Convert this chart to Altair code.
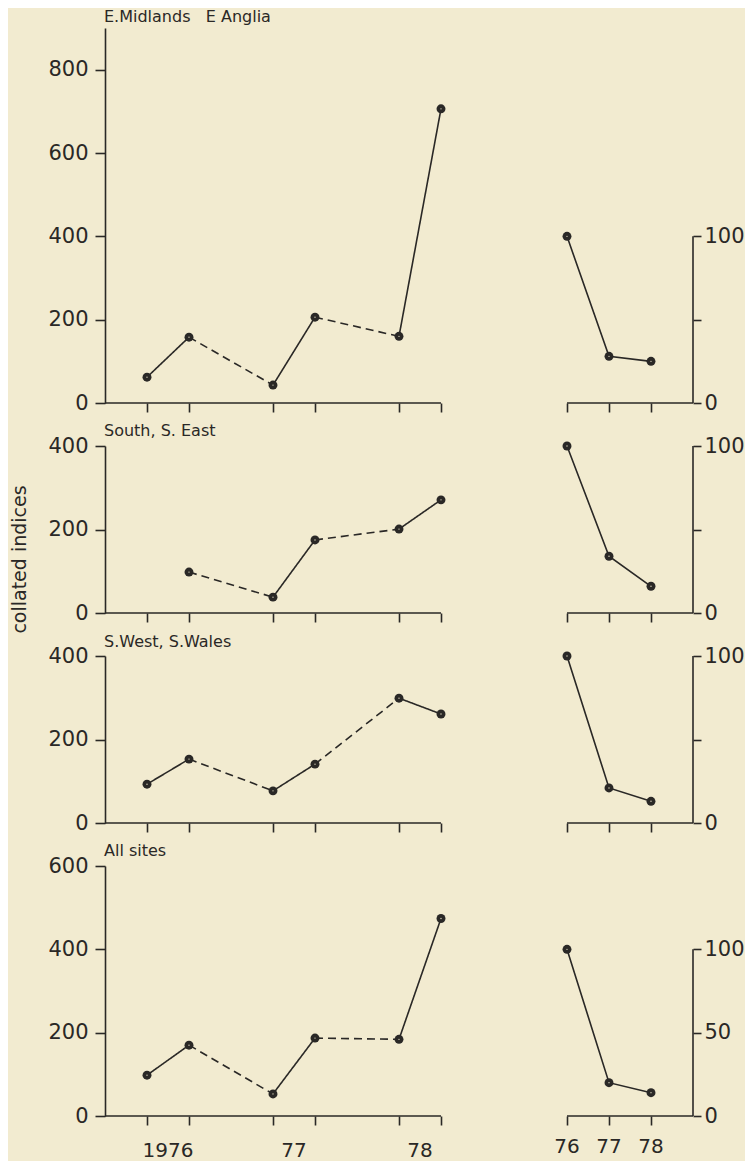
import altair as alt
import pandas as pd

# ---------------- data ----------------
REGIONS = ["E.Midlands\u00a0\u00a0 E Anglia", "South, S. East", "S.West, S.Wales", "All sites"]
PERIODS = [1, 2, 4, 5, 7, 8]            # half-year slots on the shared time axis
LEFT_VALUES = [
    [62, 158, 43, 206, 160, 706],
    [None, 98, 38, 175, 201, 271],
    [93, 153, 77, 141, 299, 261],
    [98, 170, 53, 187, 184, 474],
]
LEFT_MAX = [900, 400, 400, 600]
LEFT_TICKS = [[0, 200, 400, 600, 800], [0, 200, 400], [0, 200, 400], [0, 200, 400, 600]]

RIGHT_SLOTS = [11, 12, 13]               # annual panel, same time axis
RIGHT_VALUES = [
    [100, 28, 25],
    [100, 34, 16],
    [100, 21, 13],
    [100, 20, 14],
]
RIGHT_TICKS = [0, 50, 100]
YEAR_LABELS = ["1976", "77", "78"]
YEAR_SLOTS = [1.5, 4.5, 7.5]
RIGHT_YEAR_LABELS = ["76", "77", "78"]
Y_TITLE = "collated indices"

# ---------------- styling ----------------
BG = "#f2ebd0"
INK = "#2a2826"
FONT = "DejaVu Sans"
UNIT = 42
WIDTH = 14 * UNIT
HEIGHTS = [375, 167, 167, 250]
TITLE_DY = [-11, -15, -14, -15]
LW = 1.6
DOT = 80

X_AXIS = alt.Axis(values=[1, 2, 4, 5, 7, 8, 11, 12, 13], labels=False, domain=False,
                  ticks=True, tickSize=9, tickWidth=LW, tickColor=INK, grid=False, title=None)
X_SCALE = alt.Scale(domain=[0, 14], nice=False, zero=False)


def xenc(field):
    return alt.X(f"{field}:Q", scale=X_SCALE, axis=X_AXIS)


def left_axis(i):
    common = dict(values=LEFT_TICKS[i], domain=True, domainColor=INK, domainWidth=LW,
                  ticks=True, tickSize=10, tickWidth=LW, tickColor=INK,
                  labelFont=FONT, labelFontSize=21, labelColor=INK, labelPadding=7,
                  grid=False)
    if i == 1:
        return alt.Axis(title=Y_TITLE, titleFont=FONT, titleFontSize=19,
                        titleFontWeight="normal", titleColor=INK, titleAngle=270,
                        titleX=-86, titleY=113, titleAlign="center", titleBaseline="middle",
                        **common)
    return alt.Axis(title=None, **common)


def build_row(i):
    lmax = LEFT_MAX[i]
    rmax = lmax / 4.0
    last = i == len(REGIONS) - 1

    # ---- left (half-yearly) series ----
    pts = [(p, v) for p, v in zip(PERIODS, LEFT_VALUES[i]) if v is not None]
    pts_df = pd.DataFrame(pts, columns=["pos", "val"])
    seg_rows = []
    for k in range(len(pts) - 1):
        (p0, v0), (p1, v1) = pts[k], pts[k + 1]
        style = "dashed" if p1 - p0 > 1 else "solid"
        seg_rows.append({"seg": k, "style": style, "pos": p0, "val": v0})
        seg_rows.append({"seg": k, "style": style, "pos": p1, "val": v1})
    seg_df = pd.DataFrame(seg_rows)

    y_axis = left_axis(i)
    y_scale = alt.Scale(domain=[0, lmax], nice=False, zero=True)

    def yenc(field):
        return alt.Y(f"{field}:Q", scale=y_scale, axis=y_axis)

    lines = alt.Chart(seg_df).mark_line(color=INK, strokeWidth=LW).encode(
        x=xenc("pos"), y=yenc("val"), detail="seg:N",
        strokeDash=alt.StrokeDash("style:N", scale=alt.Scale(domain=["solid", "dashed"],
                                                             range=[[1, 0], [8, 5]]), legend=None),
    )
    dots = alt.Chart(pts_df).mark_circle(color=INK, size=DOT, opacity=1).encode(
        x=xenc("pos"), y=yenc("val"))
    centres = alt.Chart(pts_df).mark_circle(color=BG, size=2, opacity=0.9).encode(
        x=xenc("pos"), y=yenc("val"))
    base_df = pd.DataFrame({"a": [0], "b": [8], "val": [0]})
    baseline = alt.Chart(base_df).mark_rule(color=INK, strokeWidth=LW).encode(
        x=xenc("a"), x2="b:Q", y=yenc("val"))
    title_df = pd.DataFrame({"pos": [0], "val": [lmax], "t": [REGIONS[i]]})
    title = alt.Chart(title_df).mark_text(align="left", baseline="middle", dy=TITLE_DY[i], dx=-1,
                                          font=FONT, fontSize=16, color=INK).encode(
        x=xenc("pos"), y=yenc("val"), text="t:N")
    left_layers = [lines, dots, centres, baseline, title]
    if last:
        yl_df = pd.DataFrame({"pos": YEAR_SLOTS, "val": [0] * 3, "t": YEAR_LABELS})
        left_layers.append(alt.Chart(yl_df).mark_text(align="center", baseline="middle", dy=35,
                                                      font=FONT, fontSize=20, color=INK).encode(
            x=xenc("pos"), y=yenc("val"), text="t:N"))
    left = alt.layer(*left_layers)

    # ---- right (annual) series ----
    r_df = pd.DataFrame({"pos": RIGHT_SLOTS, "rv": RIGHT_VALUES[i]})
    label_expr = "datum.label" if last else "datum.value == 50 ? '' : datum.label"
    r_axis = alt.Axis(orient="right", values=RIGHT_TICKS, domain=False,
                      ticks=True, tickSize=8, tickWidth=LW, tickColor=INK,
                      labelFont=FONT, labelFontSize=21, labelColor=INK, labelPadding=3,
                      labelExpr=label_expr, grid=False, title=None)
    r_scale = alt.Scale(domain=[0, rmax], nice=False, zero=True)

    def renc(field):
        return alt.Y(f"{field}:Q", scale=r_scale, axis=r_axis)

    r_line = alt.Chart(r_df).mark_line(color=INK, strokeWidth=LW).encode(
        x=xenc("pos"), y=renc("rv"))
    r_dots = alt.Chart(r_df).mark_circle(color=INK, size=DOT, opacity=1).encode(
        x=xenc("pos"), y=renc("rv"))
    r_centres = alt.Chart(r_df).mark_circle(color=BG, size=2, opacity=0.9).encode(
        x=xenc("pos"), y=renc("rv"))
    rb_df = pd.DataFrame({"a": [RIGHT_SLOTS[0]], "b": [14], "rv": [0]})
    r_base = alt.Chart(rb_df).mark_rule(color=INK, strokeWidth=LW).encode(
        x=xenc("a"), x2="b:Q", y=renc("rv"))
    ra_df = pd.DataFrame({"a": [14], "rv": [0], "top": [100]})
    r_ax = alt.Chart(ra_df).mark_rule(color=INK, strokeWidth=LW).encode(
        x=xenc("a"), y=renc("rv"), y2="top:Q")
    right_layers = [r_line, r_dots, r_centres, r_base, r_ax]
    if last:
        ry_df = pd.DataFrame({"pos": RIGHT_SLOTS, "rv": [0] * 3, "t": RIGHT_YEAR_LABELS})
        right_layers.append(alt.Chart(ry_df).mark_text(align="center", baseline="middle", dy=31,
                                                       font=FONT, fontSize=20, color=INK).encode(
            x=xenc("pos"), y=renc("rv"), text="t:N"))
    right = alt.layer(*right_layers)

    return alt.layer(left, right).resolve_scale(y="independent").properties(
        width=WIDTH, height=HEIGHTS[i])


rows = [build_row(i) for i in range(len(REGIONS))]
chart = alt.vconcat(*rows, spacing=43, bounds="flush").properties(
    background=BG, padding={"left": 2, "top": 1, "right": 0, "bottom": 0}
).configure(font=FONT).configure_view(stroke=None, strokeWidth=0)

chart.save("out.html", embed_options={"renderer": "svg", "actions": False})
